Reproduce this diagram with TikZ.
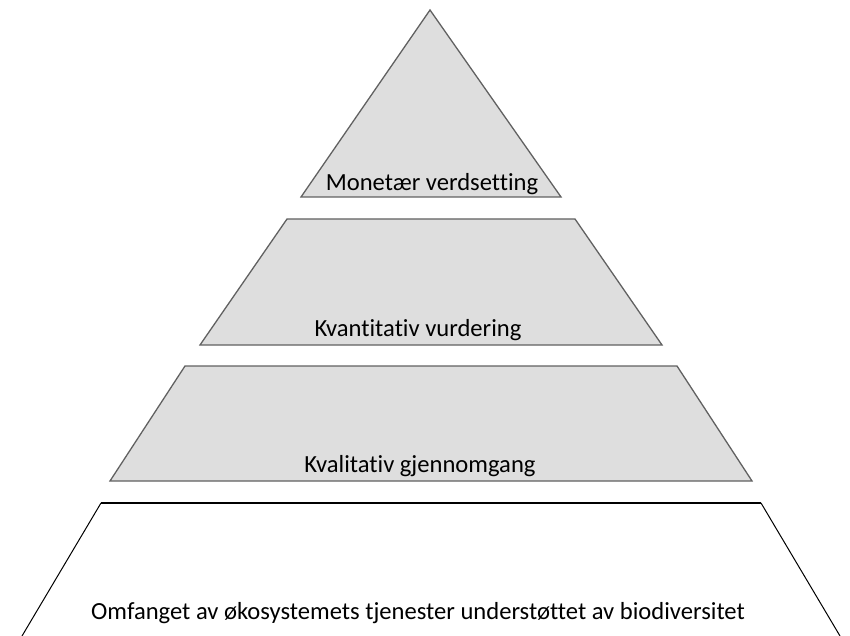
\documentclass[tikz,border=0pt]{standalone}
\usepackage{fontspec}
\setmainfont{Carlito}[Ligatures=NoCommon]
\tikzstyle{level}=[draw=black!62, fill=black!13, line width=1.3pt, line join=miter]
\tikzstyle{base}=[draw=black, line width=1pt]
\tikzstyle{lbl}=[font=\fontsize{24.6}{28}\selectfont, inner sep=0pt, anchor=base]

\begin{document}
\begin{tikzpicture}[x=1pt, y=-1pt]
    \useasboundingbox (0,0) rectangle (850,636);
    % pyramid levels
    \draw[level] (430,10) -- (561,197) -- (301,197) -- cycle;
    \draw[level] (287,219) -- (575,219) -- (662,345) -- (200,345) -- cycle;
    \draw[level] (185,366) -- (677,366) -- (752,481) -- (110,481) -- cycle;
    \draw[base] (22,636) -- (101,503);
    \draw[base] (761,503) -- (840,636);
    \draw[base, line width=2.4pt] (101,503) -- (761,503);
    % labels
    \node[lbl] (monetaer) at (432,191) {Monetær verdsetting};
    \node[lbl] (kvant) at (418,336) {Kvantitativ vurdering};
    \node[lbl] (kval) at (420,472) {Kvalitativ gjennomgang};
    \node[lbl] (omfang) at (418,619) {Omfanget av økosystemets tjenester understøttet av biodiversitet};
\end{tikzpicture}
\end{document}
